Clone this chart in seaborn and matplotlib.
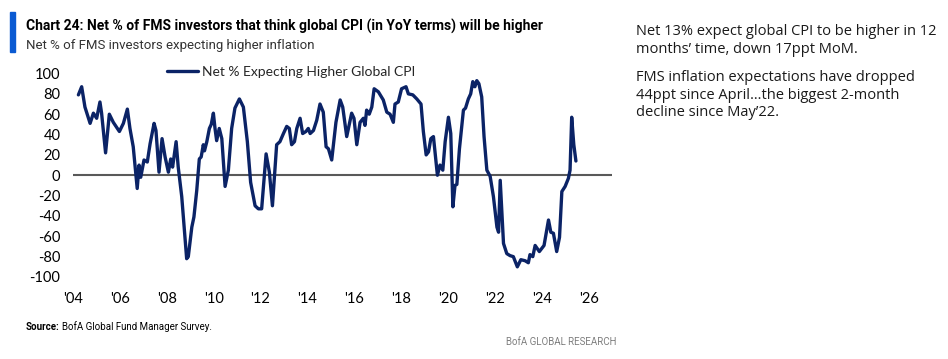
import matplotlib
matplotlib.use("Agg")
import matplotlib.pyplot as plt
import matplotlib.patches as mpatches
import seaborn as sns
import pandas as pd

# ---- data (decimal year, net % expecting higher global CPI) ----
dates = [2004.23, 2004.37, 2004.51, 2004.73, 2004.87, 2005.01, 2005.15, 2005.22, 2005.39,
         2005.55, 2005.72, 2005.98, 2006.15, 2006.32, 2006.43, 2006.57, 2006.74, 2006.82,
         2006.89, 2007.03, 2007.17, 2007.29, 2007.46, 2007.54, 2007.67, 2007.80, 2007.93,
         2008.07, 2008.17, 2008.25, 2008.40, 2008.49, 2008.64, 2008.85, 2008.92, 2009.07,
         2009.16, 2009.28, 2009.39, 2009.47, 2009.56, 2009.61, 2009.71, 2009.82, 2009.90,
         2009.99, 2010.06, 2010.13, 2010.24, 2010.35, 2010.49, 2010.63, 2010.77, 2010.91,
         2011.10, 2011.27, 2011.44, 2011.58, 2011.77, 2011.91, 2012.05, 2012.24, 2012.38,
         2012.51, 2012.69, 2012.83, 2012.98, 2013.12, 2013.23, 2013.33, 2013.45, 2013.55,
         2013.69, 2013.80, 2013.94, 2014.04, 2014.12, 2014.26, 2014.40, 2014.54, 2014.68,
         2014.80, 2014.90, 2015.04, 2015.22, 2015.40, 2015.51, 2015.68, 2015.89, 2015.99,
         2016.11, 2016.25, 2016.39, 2016.46, 2016.53, 2016.64, 2016.75, 2016.85, 2017.03,
         2017.24, 2017.39, 2017.53, 2017.67, 2017.74, 2017.88, 2018.02, 2018.21, 2018.31,
         2018.50, 2018.67, 2018.85, 2018.95, 2019.07, 2019.17, 2019.27, 2019.38, 2019.55,
         2019.66, 2019.78, 2019.88, 2020.02, 2020.12, 2020.21, 2020.30, 2020.38, 2020.49,
         2020.66, 2020.75, 2020.87, 2020.97, 2021.06, 2021.15, 2021.23, 2021.32, 2021.44,
         2021.54, 2021.66, 2021.80, 2021.94, 2022.09, 2022.16, 2022.23, 2022.37, 2022.51,
         2022.65, 2022.79, 2022.96, 2023.11, 2023.29, 2023.43, 2023.50, 2023.62, 2023.72,
         2023.90, 2024.10, 2024.29, 2024.39, 2024.50, 2024.64, 2024.76, 2024.86, 2025.00,
         2025.14, 2025.21, 2025.28, 2025.37, 2025.46]
values = [79, 87, 67, 51, 61, 56, 72, 61, 22,
          60, 52, 43, 51, 65, 46, 28, -13, 10,
          -2, 15, 13, 31, 51, 44, 3, 36, 18,
          3, 16, 8, 33, 8, -21, -82, -80, -51,
          -41, -15, 16, 18, 30, 24, 33, 46, 50,
          61, 46, 34, 46, 36, -11, 5, 46, 66,
          75, 67, 33, -7, -30, -33, -33, 21, 3,
          -30, 30, 33, 41, 48, 46, 30, 33, 46,
          56, 41, 43, 46, 41, 44, 54, 70, 62,
          28, 26, 15, 52, 74, 67, 38, 61, 56,
          30, 52, 56, 49, 64, 60, 67, 85, 82,
          74, 62, 60, 52, 70, 72, 85, 87, 80,
          79, 75, 70, 43, 20, 23, 36, 38, 0,
          10, 5, 33, 57, 41, -31, -10, -9, 26,
          64, 66, 75, 80, 92, 87, 93, 90, 77,
          38, 5, -1, -21, -51, -56, -5, -67, -77,
          -79, -80, -90, -83, -84, -86, -78, -80, -69,
          -75, -69, -44, -56, -57, -75, -61, -16, -11,
          -3, 5, 57, 30, 14]
xtick_years = [2004, 2006, 2008, 2010, 2012, 2014, 2016, 2018, 2020, 2022, 2024, 2026]
xtick_labels = ["'04", "'06", "'08", "'10", "'12", "'14", "'16", "'18", "'20", "'22", "'24", "'26"]
ytick_values = [100, 80, 60, 40, 20, 0, -20, -40, -60, -80, -100]
series_name = "Net % Expecting Higher Global CPI"

df = pd.DataFrame({"date": dates, "value": values, "series": series_name})

W, H = 948, 359
sns.set_theme(style="white")
plt.rcParams["font.family"] = ["Lato", "DejaVu Sans"]

fig = plt.figure(figsize=(W / 100, H / 100), dpi=100)
fig.patch.set_facecolor("white")

def fx(px):
    return px / W

def fy(py):
    return 1 - py / H

ax = fig.add_axes([fx(73), fy(277), fx(612) - fx(73), fy(73.5) - fy(277)])
ax.set_facecolor("white")

sns.lineplot(data=df, x="date", y="value", hue="series", palette=["#0B2366"],
             linewidth=2.4, ax=ax, legend=True)
ax.axhline(0, color="#595959", linewidth=1.5, zorder=0)

ax.set_xlim(2004, 2027)
ax.set_ylim(-100, 100)
ax.set_xticks(xtick_years)
ax.set_xticklabels(xtick_labels)
ax.set_yticks(ytick_values)
ax.set_yticklabels([str(v) for v in ytick_values])
ax.tick_params(axis="both", length=0, labelsize=10.5, colors="#000000")
ax.tick_params(axis="x", pad=11)
ax.tick_params(axis="y", pad=9)
ax.set_xlabel("")
ax.set_ylabel("")
for s in ax.spines.values():
    s.set_visible(False)

leg = ax.legend(loc="upper left", bbox_to_anchor=(0.165, 1.065), frameon=False,
                fontsize=10, handlelength=2.2, handletextpad=0.3, borderaxespad=0)

# header
fig.patches.append(mpatches.Rectangle((fx(10), fy(52)), fx(5), fy(12) - fy(52),
                                      transform=fig.transFigure, color="#0A5AD2"))
fig.text(fx(26), fy(26), "Chart 24: Net % of FMS investors that think global CPI (in YoY terms) will be higher",
         fontsize=10, fontweight="bold", family=["Roboto", "DejaVu Sans"], va="center", ha="left",
         color="#000000")
fig.text(fx(26), fy(45), "Net % of FMS investors expecting higher inflation",
         fontsize=9.5, family=["Roboto", "DejaVu Sans"], va="center", ha="left", color="#333333")

# source / footer
src = fig.text(fx(26), fy(327), "Source:", fontsize=7, fontweight="bold", family=["Roboto", "DejaVu Sans"],
               va="center", ha="left", color="#000000")
fig.canvas.draw()
bb = src.get_window_extent(renderer=fig.canvas.get_renderer())
fig.text(bb.x1 / W + fx(2), fy(327), "BofA Global Fund Manager Survey.", fontsize=7,
         family=["Roboto", "DejaVu Sans"], va="center", ha="left", color="#000000")
fig.text(fx(617), fy(342), "BofA GLOBAL RESEARCH", fontsize=7, family=["Roboto", "DejaVu Sans"],
         va="center", ha="right", color="#7f7f7f")

# commentary
fig.text(fx(636), fy(24), "Net 13% expect global CPI to be higher in 12\nmonths\u2019 time, down 17ppt MoM.",
         fontsize=10.5, family=["Open Sans", "DejaVu Sans"], va="top", ha="left",
         color="#1a1a1a", linespacing=1.25)
fig.text(fx(636), fy(70), "FMS inflation expectations have dropped\n44ppt since April\u2026the biggest 2-month\ndecline since May\u201922.",
         fontsize=10.5, family=["Open Sans", "DejaVu Sans"], va="top", ha="left",
         color="#1a1a1a", linespacing=1.25)

fig.savefig("out.png", dpi=100, facecolor="white")
